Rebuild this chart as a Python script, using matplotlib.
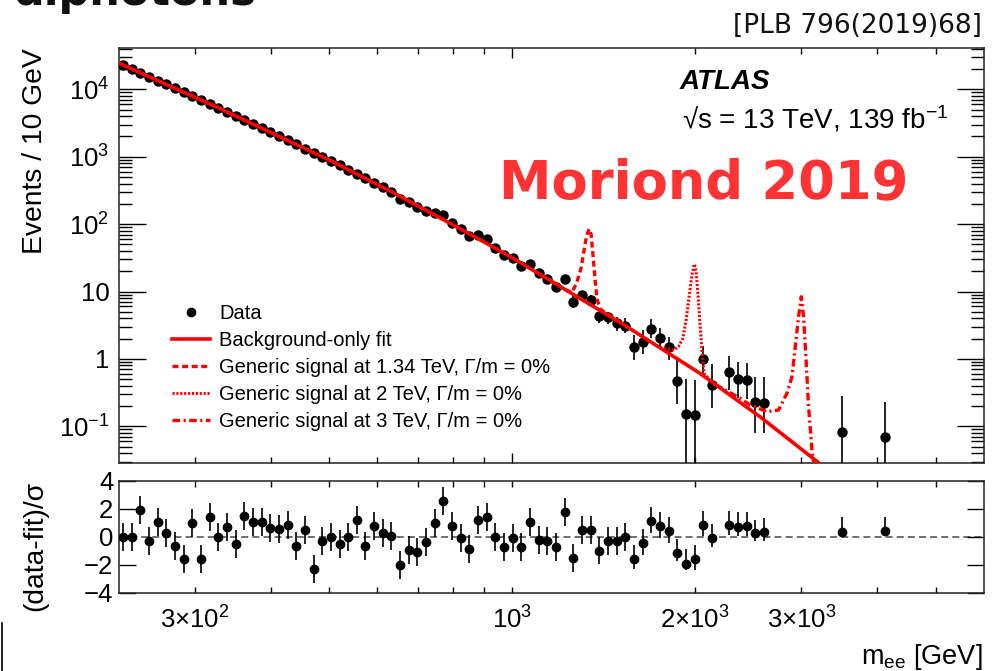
import numpy as np
import matplotlib
matplotlib.use('Agg')
import matplotlib.pyplot as plt
from matplotlib.ticker import FixedLocator, FixedFormatter, LogLocator, NullFormatter
from matplotlib.lines import Line2D

plt.rcParams['font.family'] = ['Liberation Sans', 'DejaVu Sans']
plt.rcParams['mathtext.fontset'] = 'custom'
plt.rcParams['mathtext.rm'] = 'Liberation Sans'
plt.rcParams['mathtext.it'] = 'Liberation Sans:italic'
plt.rcParams['mathtext.bf'] = 'Liberation Sans:bold'
plt.rcParams['mathtext.sf'] = 'Liberation Sans'
plt.rcParams['lines.scale_dashes'] = False

# ---------------- data ----------------
mass = [228.4, 236.0, 243.9, 252.1, 260.5, 269.2, 278.2, 287.5, 297.1, 307.1,
        317.3, 327.9, 338.9, 350.2, 361.9, 374.0, 386.5, 399.5, 412.8, 426.6,
        440.9, 455.6, 470.8, 486.6, 502.8, 519.7, 537.0, 555.0, 573.5, 592.7,
        612.5, 633.0, 654.1, 676.0, 698.6, 722.0, 746.1, 771.0, 796.8, 823.5,
        851.0, 879.4, 908.8, 939.2, 970.6, 1003.1, 1036.6, 1071.2, 1107.1, 1144.1,
        1182.3, 1221.8, 1262.7, 1304.9, 1348.5, 1393.6, 1440.2, 1488.3, 1538.1, 1589.5,
        1642.6, 1697.5, 1754.3, 1812.9, 1873.5, 1936.2, 2000.9, 2067.8, 2136.9,
        2282.2, 2358.5, 2437.3, 2518.8, 2603.0, 3499.0, 4124.0]

events = [22940, 20080, 17570, 15380, 13500, 11820, 10350, 9057, 8091, 6961,
          6093, 5333, 4637, 4030, 3504, 3057, 2656, 2309, 2008, 1745,
          1522, 1323, 1150, 1000, 872.4, 747.9, 643.7, 553.7, 476.4, 408.6,
          351.6, 302.5, 239.8, 212.8, 179.4, 157.5, 144.1, 135.1, 104.9, 84.0,
          67.3, 69.6, 59.5, 43.75, 34.44, 31.41, 24.14, 25.59, 18.62, 15.17,
          11.78, 15.07, 7.06, 8.875, 7.479, 4.285, 4.142, 3.409, 3.098, 1.486,
          1.800, 2.777, 2.021, 1.486, 0.470, 0.151, 0.147, 0.997, 0.410,
          0.639, 0.498, 0.486, 0.232, 0.225, 0.083, 0.070]

events_err_down = [0.0] * 52 + [1.43, 1.22, 1.17, 0.91, 0.85, 0.79, 0.65, 0.52, 0.62, 0.76,
                                0.59, 0.52, 0.256, 0.125, 0.122, 0.385, 0.225,
                                0.293, 0.238, 0.234, 0.152, 0.146, 0.069, 0.058]
events_err_up = [0.0] * 52 + [1.52, 1.06, 1.40, 0.73, 0.87, 0.73, 0.91, 0.78, 0.89, 1.09,
                              0.82, 0.65, 0.493, 0.347, 0.339, 0.557, 0.430,
                              0.477, 0.392, 0.374, 0.312, 0.319, 0.198, 0.162]

significance = [0.0, 0.0, 1.95, -0.3, 1.05, 0.29, -0.62, -1.57, 1.0, -1.57,
                1.4, 0.0, 0.69, -0.48, 1.48, 1.05, 1.07, 0.67, 0.57, 0.88,
                -0.67, 0.5, -2.29, -0.31, -0.02, -0.48, 0.0, 1.24, -0.67, 0.81,
                0.29, 0.1, -1.98, -0.9, -1.1, -0.38, 1.0, 2.6, 0.76, -0.1,
                -0.86, 1.24, 1.43, 0.0, -0.71, -0.07, -0.74, 1.05, -0.19, -0.29,
                -0.71, 1.76, -1.5, 0.52, 0.52, -0.98, -0.31, -0.31, -0.02, -1.55,
                -0.45, 1.17, 0.76, 0.4, -1.14, -1.93, -1.55, 0.88, -0.1,
                0.83, 0.69, 0.76, 0.26, 0.36, 0.36, 0.43]
sig_err_down = [1.0] * 55 + [0.93, 1.0, 1.0, 1.0, 0.74, 0.8, 0.9, 0.85, 0.8, 0.6,
                             0.4, 0.8, 0.83, 0.62, 0.67, 0.6, 0.67, 0.57, 0.62, 0.1, 0.05]
sig_err_up = [1.0] * 55 + [0.98, 1.0, 1.0, 1.0, 1.0, 1.0, 1.0, 1.0, 1.0, 1.0,
                           1.07, 1.0, 1.0, 1.05, 1.05, 1.1, 1.02, 0.98, 1.0, 1.05, 1.0]

fit_mass = [225, 328.0, 502.7, 632.9, 823.3, 1002.7, 1538, 2043, 2567, 3203, 3612]
fit_val = [24390, 5333, 872.4, 302.5, 84.6, 31.41, 3.109, 0.6073, 0.1374, 0.02884, 0.01175]

sig134_mass = [1151, 1228, 1256, 1280, 1300, 1315, 1327, 1340, 1350, 1360, 1371, 1381, 1397, 1548]
sig134_val = [14.9, 10.53, 9.665, 13.83, 22.32, 41.27, 66.58, 84.58, 71.32, 34.79, 14.81, 7.74, 5.50, 2.996]

sig2_mass = [1755, 1846, 1881, 1913, 1937, 1962, 1982, 1999, 2012, 2027, 2043, 2059, 2074, 2122]
sig2_val = [1.476, 1.355, 1.517, 2.021, 3.777, 9.404, 18.62, 25.59, 19.67, 8.372, 3.004, 1.211, 0.6116, 0.4782]

sig3_mass = [2163, 2378, 2470, 2632, 2751, 2840, 2895, 2931, 2968, 2999, 3025, 3056, 3083, 3123, 3144]
sig3_val = [0.4183, 0.2602, 0.2070, 0.1647, 0.1745, 0.3087, 0.5442, 1.517, 4.228, 8.372, 4.228,
            0.8603, 0.1953, 0.04451, 0.02806]

main_yticks = [0.1, 1, 10, 100, 1000, 10000]
main_yticklabels = ['$10^{-1}$', '1', '10', '$10^{2}$', '$10^{3}$', '$10^{4}$']
x_major = [1000]
x_major_labels = ['$10^{3}$']
x_minor = [300, 400, 500, 600, 700, 800, 900, 2000, 3000, 4000, 5000]
x_minor_labels = ['$3{\\times}10^{2}$', '', '', '', '', '', '', '$2{\\times}10^{3}$', '$3{\\times}10^{3}$', '', '']
ratio_yticks = [-4, -2, 0, 2, 4]
ratio_yticklabels = ['\u22124', '\u22122', '0', '2', '4']

legend_labels = ['Data', 'Background-only fit',
                 'Generic signal at 1.34 TeV, \u0393/m = 0%',
                 'Generic signal at 2 TeV, \u0393/m = 0%',
                 'Generic signal at 3 TeV, \u0393/m = 0%']

# ---------------- figure ----------------
W, H = 1002, 671
fig = plt.figure(figsize=(W / 100, H / 100), dpi=100)
L, R = 119 / W, 984 / W
ax = fig.add_axes([L, 1 - 463 / H, R - L, (463 - 48) / H])
ax2 = fig.add_axes([L, 1 - 593 / H, R - L, (593 - 481) / H])

# main panel
ax.errorbar(mass, events, yerr=[events_err_down, events_err_up], fmt='o', color='black',
            ms=6.5, elinewidth=1.2, capsize=0, zorder=3)
l_fit, = ax.plot(fit_mass, fit_val, color='red', lw=2.6, zorder=4)
l_s1, = ax.plot(sig134_mass, sig134_val, color='red', lw=2.4, dashes=(4.3, 2.6), zorder=4)
l_s2, = ax.plot(sig2_mass, sig2_val, color='red', lw=2.2, dashes=(1.5, 1.3), zorder=4)
l_s3, = ax.plot(sig3_mass, sig3_val, color='red', lw=2.4, dashes=(5.5, 2.5, 1.5, 2.5), zorder=4)

ax.set_xscale('log')
ax.set_yscale('log')
ax.set_xlim(225, 6000)
ax.set_ylim(0.02854, 41010)

for a in (ax, ax2):
    for s in a.spines.values():
        s.set_linewidth(1.1)
        s.set_color('#222222')

ax.xaxis.set_major_locator(FixedLocator(x_major))
ax.xaxis.set_minor_locator(FixedLocator(x_minor))
ax.xaxis.set_major_formatter(NullFormatter())
ax.xaxis.set_minor_formatter(NullFormatter())
ax.yaxis.set_major_locator(FixedLocator(main_yticks))
ax.yaxis.set_major_formatter(FixedFormatter(main_yticklabels))
ax.yaxis.set_minor_locator(LogLocator(base=10, subs=np.arange(2, 10), numticks=50))
ax.yaxis.set_minor_formatter(NullFormatter())
ax.tick_params(axis='x', which='major', direction='in', top=True, bottom=True, length=7.2, width=1.0,
               labelbottom=False)
ax.tick_params(axis='x', which='minor', direction='in', top=True, bottom=True, length=4.3, width=1.0)
ax.tick_params(axis='y', which='major', direction='in', left=True, right=True, length=19.4, width=1.0,
               labelsize=18.5, pad=7)
ax.tick_params(axis='y', which='minor', direction='in', left=True, right=True, length=9.4, width=1.0)

h_data = Line2D([], [], marker='o', color='black', ls='none', ms=6.0)
ax.legend([h_data, l_fit, l_s1, l_s2, l_s3], legend_labels, loc='upper left',
          bbox_to_anchor=(0.0613, 0.384), frameon=False, fontsize=14.5,
          handlelength=1.9, handletextpad=0.45, labelspacing=0.40, borderpad=0, borderaxespad=0)

# ratio panel
ax2.axhline(0, color='#555555', lw=1.2, dashes=(5, 3), zorder=1)
ax2.errorbar(mass, significance, yerr=[sig_err_down, sig_err_up], fmt='o', color='black',
             ms=6.0, elinewidth=1.2, capsize=0, zorder=3)
ax2.set_xscale('log')
ax2.set_xlim(225, 6000)
ax2.set_ylim(-4, 4)
ax2.xaxis.set_major_locator(FixedLocator(x_major))
ax2.xaxis.set_minor_locator(FixedLocator(x_minor))
ax2.xaxis.set_major_formatter(FixedFormatter(x_major_labels))
ax2.xaxis.set_minor_formatter(FixedFormatter(x_minor_labels))
ax2.yaxis.set_major_locator(FixedLocator(ratio_yticks))
ax2.yaxis.set_major_formatter(FixedFormatter(ratio_yticklabels))
ax2.tick_params(axis='x', which='both', direction='in', top=True, bottom=True, length=4.5, width=1.0,
                labelsize=18.5, pad=10)
ax2.tick_params(axis='y', which='major', direction='in', left=True, right=True, length=12, width=1.0,
                labelsize=18.5, pad=4)

# texts
fig.text(35 / W, 1 - 48 / H, 'Events / 10 GeV', rotation=90, ha='center', va='top', fontsize=20.3)
fig.text(35 / W, 1 - 481 / H, '(data-fit)/\u03c3', rotation=90, ha='center', va='top', fontsize=20.3)
fig.text(983 / W, 1 - 664 / H, 'm$_{\\mathrm{ee}}$ [GeV]', ha='right', va='baseline', fontsize=19.5)

fig.text(680 / W, 1 - 89 / H, 'ATLAS', ha='left', va='baseline', fontsize=20,
         fontweight='bold', fontstyle='italic')
fig.text(682 / W, 1 - 128 / H, '\u221as = 13 TeV, 139 fb$^{\\mathrm{-1}}$', ha='left', va='baseline',
         fontsize=20)

fig.text(13 / W, 1 - 5 / H, 'diphotons', ha='left', va='baseline', fontsize=31,
         fontweight='bold', family='DejaVu Sans', color='#111111')
fig.text(982 / W, 1 - 33 / H, '[PLB 796(2019)68]', ha='right', va='baseline', fontsize=19,
         family='DejaVu Sans', color='#111111')
fig.text(499 / W, 1 - 198 / H, 'Moriond 2019', ha='left', va='baseline', fontsize=38,
         fontweight='bold', family='DejaVu Sans', color='#ff3333')

fig.add_artist(Line2D([1.5 / W, 1.5 / W], [0, 48 / H], color='black', lw=1.2))

fig.savefig('out.png', dpi=100)
